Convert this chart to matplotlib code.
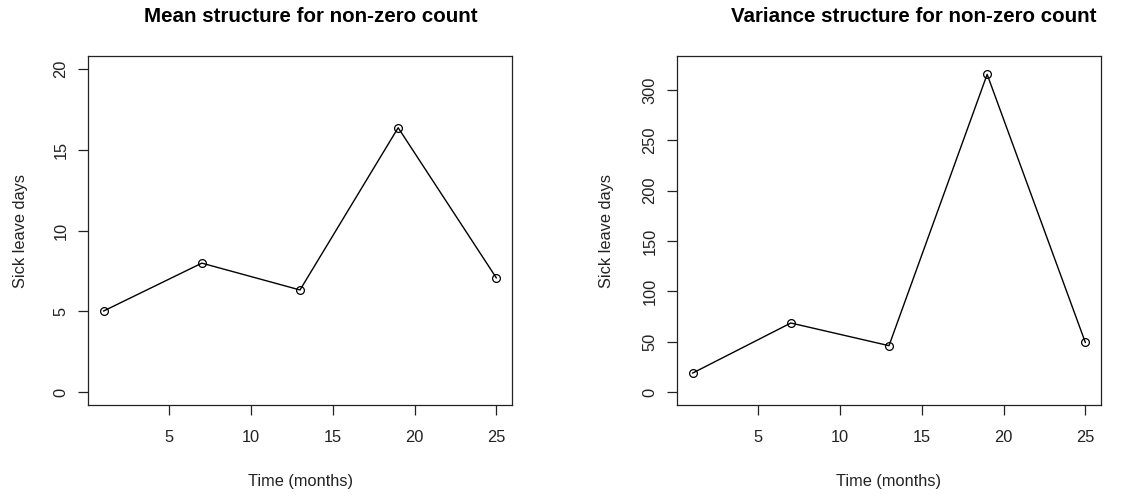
import matplotlib
matplotlib.use("Agg")
import matplotlib.pyplot as plt

plt.rcParams['font.family'] = ['Liberation Sans', 'DejaVu Sans']

time = [1, 7, 13, 19, 25]
mean_vals = [5.02, 7.98, 6.32, 16.36, 7.07]
var_vals = [18.9, 68.6, 46.1, 315.6, 49.4]
x_ticks = [5, 10, 15, 20, 25]
mean_yticks = [0, 5, 10, 15, 20]
var_yticks = [0, 50, 100, 150, 200, 250, 300]

W, H = 1139, 498
fig = plt.figure(figsize=(W / 100, H / 100), dpi=100)


def pad4(lo, hi):
    d = (hi - lo) * 0.04
    return lo - d, hi + d


def make_panel(left_px, right_px, vals, ylim, yticks, title, title_x, ylab_x):
    top_px, bot_px = 56, 405
    ax = fig.add_axes([left_px / W, (H - bot_px) / H, (right_px - left_px) / W, (bot_px - top_px) / H])
    ax.plot(time, vals, color='black', lw=1.0, marker='o', markersize=5.6,
            markerfacecolor='none', markeredgecolor='black', markeredgewidth=0.9)
    ax.set_xlim(*pad4(min(time), max(time)))
    ax.set_ylim(*pad4(*ylim))
    ax.set_xticks(x_ticks)
    ax.set_yticks(yticks)
    ax.set_yticklabels([str(v) for v in yticks], rotation=90, va='center')
    ax.tick_params(direction='out', length=7.2, width=0.9, colors='#222222',
                   labelsize=11.8, labelcolor='#222222')
    ax.tick_params(axis='x', pad=11)
    ax.tick_params(axis='y', pad=7)
    for s in ax.spines.values():
        s.set_linewidth(0.9)
        s.set_color('#222222')
    ax.set_xlabel('Time (months)', fontsize=11.8, color='#222222', va='center')
    ax.xaxis.set_label_coords(0.5, -(481.7 - bot_px) / (bot_px - top_px))
    ax.set_ylabel('Sick leave days', fontsize=11.8, color='#222222', va='center')
    ax.yaxis.set_label_coords(ylab_x, 0.5)
    ax.text(title_x, (bot_px - 16) / (bot_px - top_px), title, transform=ax.transAxes,
            ha='center', va='center', fontsize=14.8, fontweight='bold', color='black')
    return ax


make_panel(88, 512, mean_vals, (0, 20), mean_yticks,
           'Mean structure for non-zero count', (310.5 - 88) / 424, (20 - 88) / 424)
make_panel(677, 1101, var_vals, (0, 321), var_yticks,
           'Variance structure for non-zero count', (914 - 677) / 424, (607 - 677) / 424)

fig.savefig('out.png', dpi=100, facecolor='white')
